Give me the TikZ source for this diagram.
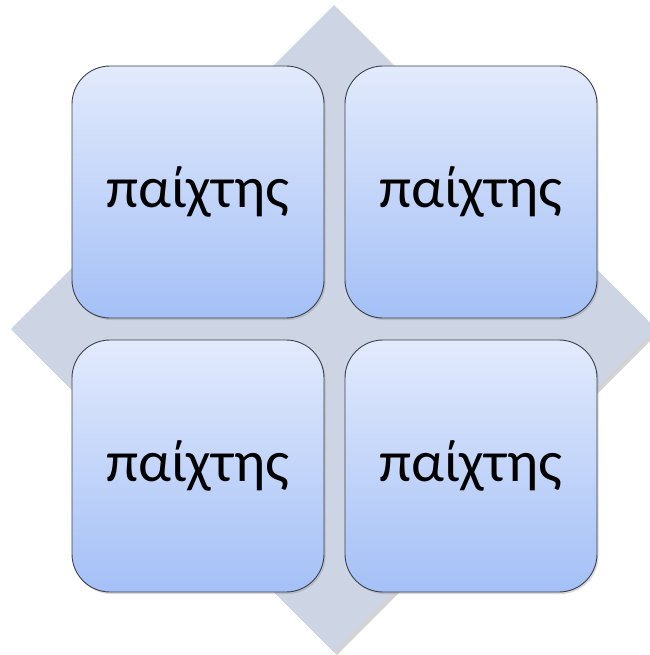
\documentclass[tikz,border=0pt]{standalone}
\usepackage{fontspec}
\setmainfont{Carlito}
\usetikzlibrary{shadows}
\definecolor{diamondgray}{RGB}{205,212,227}
\definecolor{boxtop}{RGB}{226,234,252}
\definecolor{boxbottom}{RGB}{164,192,246}
\definecolor{boxline}{RGB}{60,64,76}

\begin{document}
\begin{tikzpicture}[x=1pt,y=-1pt,
    player/.style={draw=boxline,line width=0.9pt,rounded corners=38pt,
      minimum width=252pt,minimum height=252pt,top color=boxtop,
      bottom color=boxbottom,font=\fontsize{58}{70}\selectfont,
      drop shadow={shadow xshift=1.5pt,shadow yshift=-2pt,opacity=0.3}}]

    \useasboundingbox (0,0) rectangle (649,655);
    % background diamond
	\fill[diamondgray,drop shadow={shadow xshift=3pt,shadow yshift=-3pt,opacity=0.35}]
	  (334,5) -- (656,329) -- (334,652) -- (11,329) -- cycle;

    \node[player] (tl) at (198,192) {παίχτης};
    \node[player] (tr) at (471,192) {παίχτης};
    \node[player] (bl) at (198,466) {παίχτης};
    \node[player] (br) at (471,466) {παίχτης};

\end{tikzpicture}
\end{document}
